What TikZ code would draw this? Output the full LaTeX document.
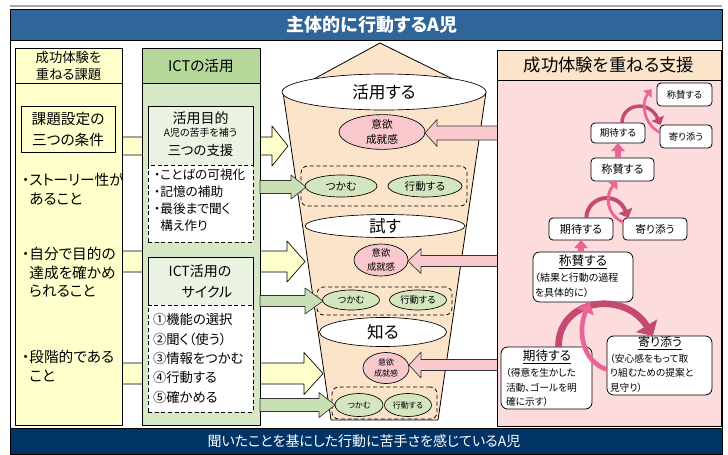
\documentclass[tikz,border=0pt]{standalone}
\usepackage{fontspec}
\setmainfont{Noto Sans CJK JP}[RawFeature=+palt]
\usetikzlibrary{arrows.meta,shapes.geometric}
\definecolor{banner}{HTML}{2F6598}
\definecolor{navy}{HTML}{003366}
\definecolor{ylw}{HTML}{FFFFCC}
\definecolor{grnH}{HTML}{B5D79A}
\definecolor{grnB}{HTML}{D6E8C5}
\definecolor{grnT}{HTML}{EBF3E3}
\definecolor{peach}{HTML}{FCE4CA}
\definecolor{pinkB}{HTML}{FDDCDD}
\definecolor{pinkE}{HTML}{F9C8CC}
\definecolor{pinkA}{HTML}{F8CACE}
\definecolor{grnE}{HTML}{D3E6C0}
\definecolor{grnA}{HTML}{C9E0B5}
\definecolor{magD}{HTML}{C44A72}
\definecolor{magL}{HTML}{EA6595}
\newcommand\fsz[2]{\fontsize{#1}{#2}\selectfont}
\newcommand\rarrow[7]{\draw[#7] (#1,#4-#5) -- (#2,#4-#5) -- (#2,#4-#6) -- (#3,#4) -- (#2,#4+#6) -- (#2,#4+#5) -- (#1,#4+#5) -- cycle;}
\begin{document}
\begin{tikzpicture}[x=0.75pt,y=-0.75pt,line join=round,
  sz/.style 2 args={minimum width=#1*0.75pt, minimum height=#2*0.75pt},
  bx/.style={draw=black, line width=0.6pt, inner sep=0pt, outer sep=0pt, rectangle},
  el/.style={ellipse, draw=black, line width=0.5pt, inner sep=0pt, outer sep=0pt, align=center},
  rb/.style={draw=black, line width=0.6pt, fill=white, rounded corners=3pt, inner sep=0pt, outer sep=0pt},
  txt/.style={inner sep=0pt, outer sep=0pt},
  yarr/.style={draw=black, line width=0.5pt, fill=ylw},
  garr/.style={draw=black!80, line width=0.5pt, fill=grnA},
  parr/.style={draw=black!80, line width=0.5pt, fill=pinkA},
  carrD/.style={draw=magD},
  carrL/.style={draw=magL}]
\useasboundingbox (0,0) rectangle (728,454);
\fill[white] (0,0) rectangle (728,454);
\draw[black!35, line width=0.8pt] (10,6) -- (722,6);
\node[bx, sz={712}{445}, fill=white] (frame) at (366,231.5) {};
\node[bx, sz={712}{31}, fill=banner] (topbar) at (366,25) {};
\node[txt, text=white, font=\bfseries\fsz{13.5}{16}] (toptitle) at (372,25) {主体的に行動するA児};
\node[bx, sz={712}{26}, fill=navy] (botbar) at (366,441) {};
\node[txt, text=white, font=\fsz{10.5}{12}] (bottitle) at (364,441) {聞いたことを基にした行動に苦手さを感じているA児};
% yellow arrows
\rarrow{118}{272}{288}{146}{9}{20}{yarr}
\rarrow{118}{287}{305}{261.5}{10.5}{20.5}{yarr}
\rarrow{118}{304}{323}{373.5}{10.5}{21}{yarr}
% left column
\node[bx, sz={107}{35}, fill=ylw] (lhead) at (68.5,65.5) {};
\node[txt, align=center, font=\fsz{10}{12.75}] (lheadt) at (68.5,65.5) {成功体験を\\重ねる課題};
\node[bx, sz={107}{342}, fill=ylw] (lbody) at (68.5,254) {};
\node[bx, sz={94}{46}, fill=ylw, align=center, font=\fsz{11}{15.75}] (cond) at (68,129) {課題設定の\\三つの条件};
\node[txt, anchor=west, align=left, font=\fsz{11}{14.25}] (c1) at (22,189.5) {・ストーリー性が\\\hphantom{・}あること};
\node[txt, anchor=west, align=left, font=\fsz{11}{13.9}] (c2) at (22,272.5) {・自分で目的の\\\hphantom{・}達成を確かめ\\\hphantom{・}られること};
\node[txt, anchor=west, align=left, font=\fsz{11}{14.25}] (c3) at (22,366.5) {・段階的である\\\hphantom{・}こと};
% green column
\node[bx, sz={118}{35}, fill=grnH, font=\fsz{11}{13}] (ghead) at (201,65.5) {ICTの活用};
\node[bx, sz={118}{342}, fill=grnB] (gbody) at (201,254) {};
\node[bx, sz={105}{59}, fill=grnT] (aim) at (200.5,135.5) {};
\node[txt, font=\fsz{10.5}{12}] (aim1) at (200.5,118) {活用目的};
\node[txt, font=\fsz{7.5}{9}] (aim2) at (200.5,133) {A児の苦手を補う};
\node[txt, font=\fsz{10}{12}] (aim3) at (200.5,150) {三つの支援};
\node[bx, densely dashed, sz={105}{77}, fill=white] (aimlist) at (200.5,203.5) {};
\node[txt, anchor=west, align=left, font=\fsz{9.5}{12.75}] (aiml) at (154,200.5) {・ことばの可視化\\・記憶の補助\\・最後まで聞く\\\hphantom{・}構え作り};
\node[bx, sz={105}{48}, fill=grnT] (cyc) at (200.5,281) {};
\node[txt, font=\fsz{10.5}{12}] (cyc1) at (200,271) {ICT活用の};
\node[txt, font=\fsz{10.5}{12}] (cyc2) at (207,292) {サイクル};
\node[bx, densely dashed, sz={105}{107}, fill=white] (cyclist) at (200.5,358.5) {};
\node[txt, anchor=west, align=left, font=\fsz{10}{14.6}] (cycl) at (153,358.4) {①機能の選択\\②聞く（使う）\\③情報をつかむ\\④行動する\\⑤確かめる};
% funnel
\draw[line width=0.6pt, fill=peach] (380,43) -- (290,92) -- (479,92) -- cycle;
\draw[line width=0.6pt, fill=peach] (283,92) -- (331,420) -- (438,420) -- (486,92) -- cycle;
\node[el, sz={204}{36}, fill=white, font=\fsz{12.5}{14}] (katsuyo) at (384,92) {活用する};
\node[el, sz={160}{23}, fill=white, font=\fsz{12.5}{14}] (tamesu) at (385,226) {試す};
\node[el, sz={127}{29}, fill=white, font=\fsz{12.5}{14}] (shiru) at (383,332) {知る};
\node[bx, densely dashed, rounded corners=5pt, sz={166}{40}] (row1) at (384,186) {};
\node[bx, densely dashed, rounded corners=5pt, sz={135}{28}] (row2) at (384.5,301) {};
\node[bx, densely dashed, rounded corners=5pt, sz={105}{32}] (row3) at (384.5,403) {};
% green arrows
\rarrow{260}{291}{306}{187}{6.5}{12}{garr}
\rarrow{260}{305}{323}{301}{5.5}{13}{garr}
\rarrow{260}{319}{335}{405}{6.5}{12.5}{garr}
\node[el, sz={72}{22}, fill=grnE, font=\fsz{8}{9}] (tsu1) at (341,186) {つかむ};
\node[el, sz={74}{22}, fill=grnE, font=\fsz{8}{9}] (ko1) at (425,186) {行動する};
\node[el, sz={57}{20}, fill=grnE, font=\fsz{7}{8}] (tsu2) at (351,300) {つかむ};
\node[el, sz={57}{20}, fill=grnE, font=\fsz{7}{8}] (ko2) at (418,300) {行動する};
\node[el, sz={48}{23}, fill=grnE, font=\fsz{6}{7}] (tsu3) at (359,405) {つかむ};
\node[el, sz={47}{23}, fill=grnE, font=\fsz{6}{7}] (ko3) at (408,405) {行動する};
\node[el, sz={86}{33}, fill=pinkE, font=\fsz{8}{11}] (iyoku1) at (382,132) {意欲\\成就感};
\node[el, sz={54}{32}, fill=pinkE, font=\fsz{7}{10}] (iyoku2) at (381,260) {意欲\\成就感};
\node[el, sz={46}{31}, fill=pinkE, font=\fsz{6}{8.5}] (iyoku3) at (386,368) {意欲\\成就感};
% pink arrows
\rarrow{500}{437}{425}{133}{7}{13.5}{parr}
\rarrow{500}{421}{408}{261}{5.5}{12.5}{parr}
\rarrow{500}{421}{409}{365}{5.5}{13}{parr}
% right panel
\node[bx, sz={224}{30}, fill=peach, font=\fsz{13}{15}] (rhead) at (609,65) {成功体験を重ねる支援};
\node[bx, sz={224}{346}, fill=pinkB] (rbody) at (609,253) {};
\node[rb, sz={55}{23}, font=\fsz{7}{8}] (sTop) at (684.5,94.5) {称賛する};
\node[rb, sz={54}{20}, font=\fsz{7.2}{8}] (kU) at (618,133) {期待する};
\node[rb, sz={52}{23}, font=\fsz{7}{8}] (yU) at (686,136.5) {寄り添う};
\node[rb, sz={63}{23}, font=\fsz{8.3}{9}] (sM) at (622.5,169.5) {称賛する};
\node[rb, sz={64}{22}, font=\fsz{8.3}{9}] (kL) at (581,229) {期待する};
\node[rb, sz={64}{22}, font=\fsz{8}{9}] (yL) at (655,229) {寄り添う};
\node[rb, rounded corners=5pt, sz={100}{50}] (sB) at (583,277) {};
\node[txt, font=\fsz{9.5}{11}] (sBt) at (583,262) {\underline{称賛する}};
\node[txt, anchor=west, align=left, font=\fsz{7.5}{11.25}] (sBb) at (535,285.5) {（結果と行動の過程\\を具体的に）};
\node[rb, rounded corners=5pt, sz={91}{62}] (kB) at (546.5,378) {};
\node[txt, font=\fsz{9.5}{11}] (kBt) at (547,357) {\underline{期待する}};
\node[txt, anchor=west, align=left, font=\fsz{7.3}{10.9}] (kBb) at (506,387.5) {（得意を生かした\\活動、ゴールを明\\確に示す）};
\node[rb, rounded corners=5pt, sz={105}{59}] (yB) at (659.5,365.5) {};
\node[txt, font=\fsz{9}{11}] (yBt) at (660,343.5) {\underline{寄り添う}};
\node[txt, anchor=west, align=left, font=\fsz{7.3}{11}] (yBb) at (610,373) {（安心感をもって取\\り組むための提案と\\見守り）};
% curved arrows
\draw[carrD, line width=5pt, -{Triangle[width=18pt,length=9pt]}] ([xshift=9pt]kB.north) .. controls (558,298) and (625,290) .. ([xshift=-5pt]yB.north);
\draw[carrL, line width=3.5pt, -{Triangle[width=13pt,length=8pt]}] ([yshift=-3pt]yB.west) .. controls (583,362) and (577,332) .. ([xshift=5pt]sB.south);
\draw[carrD, line width=3pt, -{Triangle[width=11pt,length=6pt]}] ([xshift=4pt]kL.north) .. controls (587,196) and (617,190) .. ([xshift=-20pt]yL.north);
\draw[carrL, line width=2.2pt, -{Triangle[width=9pt,length=5pt]}] ([yshift=5pt]yL.west) .. controls (606,214) and (605,195) .. ([xshift=-4pt]sM.south);
\draw[carrD, line width=2.6pt, -{Triangle[width=10pt,length=5.5pt]}] ([xshift=3pt]kU.north) .. controls (622,104) and (649,99) .. ([xshift=-19pt]yU.north);
\draw[carrL, line width=2pt, -{Triangle[width=8pt,length=5pt]}] ([yshift=3pt]yU.west) .. controls (643,124) and (641,102) .. ([xshift=-4pt,yshift=4pt]sTop.west);
\draw[carrL, line width=4pt, -{Triangle[width=10pt,length=6pt]}] (kU.south |- sM.north) -- (kU.south);
\draw[carrL, line width=4pt, -{Triangle[width=10pt,length=6pt]}] (kL.south |- sB.north) -- (kL.south);
\end{tikzpicture}
\end{document}
